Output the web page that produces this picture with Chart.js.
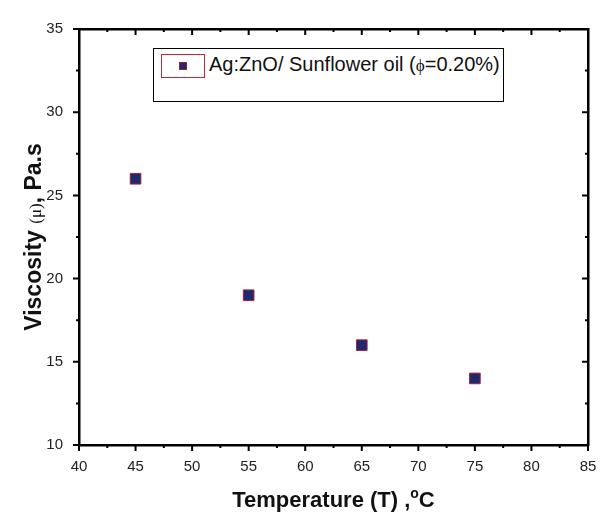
<!DOCTYPE html>
<html>
<head>
<meta charset="utf-8">
<script src="https://cdn.jsdelivr.net/npm/chart.js@4"></script>
<style>
  body { margin: 0; background: #fff; }
  #wrap { position: relative; width: 609px; height: 515px; }
  #legend {
    position: absolute; left: 153px; top: 48px; width: 351px; height: 54px;
    border: 1px solid #000; box-sizing: border-box; background: #fff;
    font-family: "Liberation Sans", Arial, sans-serif; font-size: 20px; color: #111;
  }
  #legend .sym {
    position: absolute; left: 7px; top: 5px; width: 44px; height: 24px;
    border: 1px solid #c0283a; box-sizing: border-box;
  }
  #legend .sym i {
    position: absolute; left: 17px; top: 7px; width: 8px; height: 8px;
    background: #1f2a6e; border: 1px solid #9a1e34; box-sizing: border-box;
  }
  #legend .txt { position: absolute; left: 55px; top: 4px; white-space: nowrap; }
  #legend .phi { font-family: "Liberation Serif", serif; font-size: 17px; }
</style>
</head>
<body>
<div id="wrap">
  <canvas id="viscChart" width="609" height="515"></canvas>
  <div id="legend">
    <div class="sym"><i></i></div>
    <div class="txt">Ag:ZnO/ Sunflower oil (<span class="phi">&#981;</span>=0.20%)</div>
  </div>
</div>
<script>
const temperature = [45, 55, 65, 75];
const viscosity = [26, 19, 16, 14];
const xRange = [40, 85];
const yRange = [10, 35];

// minor ticks + inward ticks on the top/right frame
const frameTicks = {
    id: 'frameTicks',
    afterDraw(chart) {
        const { ctx, chartArea: a, scales } = chart;
        ctx.save();
        ctx.strokeStyle = '#000';
        ctx.lineWidth = 2;
        for (let v = xRange[0]; v <= xRange[1]; v += 2.5) {
            const px = scales.x.getPixelForValue(v);
            const len = v % 5 === 0 ? 6 : 3;
            ctx.beginPath();
            ctx.moveTo(px, a.bottom); ctx.lineTo(px, a.bottom + len);
            ctx.moveTo(px, a.top); ctx.lineTo(px, a.top + len);
            ctx.stroke();
        }
        for (let v = yRange[0]; v <= yRange[1]; v += 2.5) {
            const py = scales.y.getPixelForValue(v);
            const len = v % 5 === 0 ? 6 : 3;
            ctx.beginPath();
            ctx.moveTo(a.left, py); ctx.lineTo(a.left - len, py);
            ctx.moveTo(a.right, py); ctx.lineTo(a.right - len, py);
            ctx.stroke();
        }
        ctx.restore();
    }
};

// axis titles with mixed fonts
const axisTitles = {
    id: 'axisTitles',
    afterDraw(chart) {
        const { ctx, chartArea: a } = chart;
        const bold = 'bold 22px "Liberation Sans", Arial, sans-serif';
        const boldY = 'bold 23px "Liberation Sans", Arial, sans-serif';
        const serif = '17px "Liberation Serif", serif';
        const small = 'bold 14px "Liberation Sans", Arial, sans-serif';
        ctx.save();
        ctx.fillStyle = '#111';
        ctx.textBaseline = 'alphabetic';

        // x title
        const p1 = 'Temperature (T) ,', p2 = 'o', p3 = 'C';
        ctx.font = bold; const w1 = ctx.measureText(p1).width, w3 = ctx.measureText(p3).width;
        ctx.font = small; const w2 = ctx.measureText(p2).width;
        let x = (a.left + a.right) / 2 - (w1 + w2 + w3) / 2;
        const y = 507;
        ctx.font = bold; ctx.fillText(p1, x, y); x += w1;
        ctx.font = small; ctx.fillText(p2, x, y - 9); x += w2;
        ctx.font = bold; ctx.fillText(p3, x, y);

        // y title
        const parts = [['Viscosity ', boldY], ['(\u03bc)', serif], [', Pa.s', boldY]];
        let total = 0;
        parts.forEach(p => { ctx.font = p[1]; total += ctx.measureText(p[0]).width; });
        ctx.translate(41, (a.top + a.bottom) / 2);
        ctx.rotate(-Math.PI / 2);
        let s = -total / 2;
        parts.forEach(p => { ctx.font = p[1]; ctx.fillText(p[0], s, 0); s += ctx.measureText(p[0]).width; });
        ctx.restore();
    }
};

const tickFont = { family: '"Liberation Sans", Arial, sans-serif', size: 15 };
const frame = { display: true, color: '#000', width: 2.5 };

new Chart(document.getElementById('viscChart'), {
    type: 'scatter',
    data: {
        datasets: [{
            label: 'Ag:ZnO/ Sunflower oil (\u03d5=0.20%)',
            data: temperature.map((t, i) => ({ x: t, y: viscosity[i] })),
            pointStyle: 'rect',
            pointRadius: 7.5,
            pointHoverRadius: 7.5,
            backgroundColor: '#1f2a6e',
            borderColor: '#a3213a',
            borderWidth: 1
        }]
    },
    options: {
        responsive: false,
        animation: false,
        layout: { padding: 0 },
        plugins: { legend: { display: false }, tooltip: { enabled: false } },
        scales: {
            x: {
                type: 'linear', position: 'bottom', min: xRange[0], max: xRange[1],
                ticks: { stepSize: 5, font: tickFont, color: '#222', padding: 5 },
                grid: { display: false },
                border: frame,
                afterFit: s => { s.height = 70; }
            },
            y: {
                type: 'linear', position: 'left', min: yRange[0], max: yRange[1],
                ticks: { stepSize: 5, font: tickFont, color: '#222', padding: 8 },
                grid: { display: false },
                border: frame,
                afterFit: s => { s.width = 79; }
            },
            x2: {
                type: 'linear', position: 'top', min: xRange[0], max: xRange[1],
                ticks: { display: false },
                grid: { display: false },
                border: frame,
                afterFit: s => { s.height = 29; }
            },
            y2: {
                type: 'linear', position: 'right', min: yRange[0], max: yRange[1],
                ticks: { display: false },
                grid: { display: false },
                border: frame,
                afterFit: s => { s.width = 21; }
            }
        }
    },
    plugins: [frameTicks, axisTitles]
});
</script>
</body>
</html>
